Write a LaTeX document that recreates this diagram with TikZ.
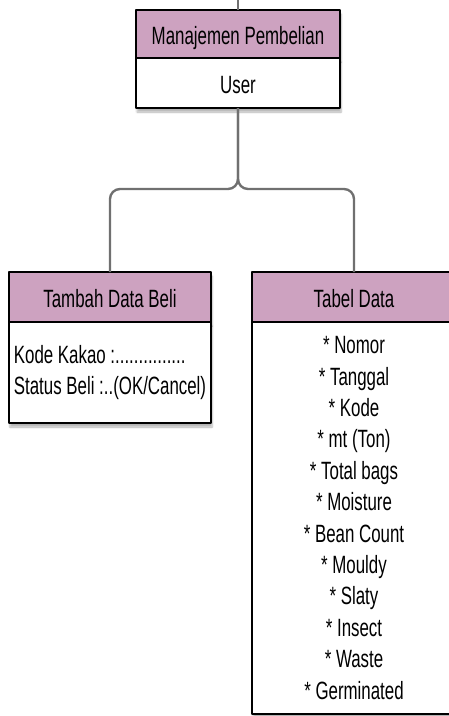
\documentclass[tikz,border=0pt]{standalone}
\usepackage{fontspec}
\setmainfont{Liberation Sans}[FakeStretch=0.675]
\usetikzlibrary{positioning,shadows.blur}
\definecolor{headpink}{RGB}{205,162,192}
\definecolor{linkgray}{RGB}{112,112,112}
\begin{document}
\begin{tikzpicture}[x=1pt,y=-1pt, line join=round, font=\fontsize{25}{31.4}\selectfont,
	box/.style={draw=black, line width=1.4pt, inner sep=0pt, outer sep=0pt,
		blur shadow={shadow xshift=1pt, shadow yshift=-4pt, shadow blur steps=6, shadow opacity=30}},
	head/.style={box, fill=headpink, minimum height=50pt, text height=20pt, text depth=0pt},
	body/.style={box, fill=white},
	link/.style={draw=linkgray, line width=2.4pt, rounded corners=10pt}]
	\def\W{204} % box width
	\useasboundingbox (0,0) rectangle (449,716);
	% boxes
	\node[head, minimum width=\W, minimum height=48pt] (mgrHead) at (238,34) {Manajemen Pembelian};
	\node[body, minimum width=\W, minimum height=50pt, text height=20pt, text depth=0pt, below=0pt of mgrHead] (mgrBody) {User};
	\node[head, minimum width=202] (addHead) at (110,297) {Tambah Data Beli};
	\node[body, minimum width=202, minimum height=101pt, align=left, below=0pt of addHead] (addBody)
		{Kode Kakao :...............\\Status Beli :..(OK/Cancel)};
	\node[head, minimum width=\W] (tblHead) at (354,297) {Tabel Data};
	\node[body, minimum width=\W, minimum height=392pt, align=center, below=0pt of tblHead] (tblBody)
		{* Nomor\\* Tanggal\\* Kode\\* mt (Ton)\\* Total bags\\* Moisture\\* Bean Count\\* Mouldy\\* Slaty\\* Insect\\* Waste\\* Germinated};
	% connectors
	\coordinate (topEnd) at (238,0);
	\coordinate (fork) at (238,189);
	\draw[link] (topEnd) -- (mgrHead.north);
	\draw[link] (mgrBody.south) -- (fork) -| (addHead.north);
	\draw[link] (mgrBody.south) -- (fork) -| (tblHead.north);
\end{tikzpicture}
\end{document}
